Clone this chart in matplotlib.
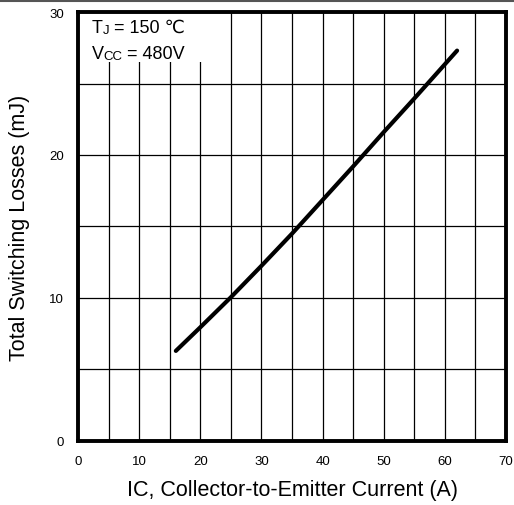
import matplotlib
matplotlib.use("Agg")
import matplotlib.pyplot as plt
from matplotlib.lines import Line2D

plt.rcParams['font.family'] = ['Liberation Sans', 'DejaVu Sans']

# curve
ic = [16, 20, 25, 30, 35, 40, 45, 50, 55, 62]
eloss = [6.3, 7.95, 10.05, 12.25, 14.5, 16.85, 19.2, 21.6, 23.95, 27.3]

xticks = [0, 10, 20, 30, 40, 50, 60, 70]
yticks = [0, 10, 20, 30]
grid_x = list(range(5, 70, 5))
grid_y = [5, 10, 15, 20, 25]

fig = plt.figure(figsize=(5.14, 5.06), dpi=100)
ax = fig.add_axes([0.1518, 0.1265, 0.8326, 0.8478])
ax.set_xlim(0, 70)
ax.set_ylim(0, 30)

for gx in grid_x:
    ax.axvline(gx, color='black', lw=0.9, zorder=1)
for gy in grid_y:
    ax.axhline(gy, color='black', lw=0.9, zorder=1)

# white box behind the conditions text
ax.fill_between([0, 23.8], 26.5, 30, color='white', lw=0, zorder=2)

ax.plot(ic, eloss, color='black', lw=3, solid_capstyle='round',
        solid_joinstyle='round', zorder=3)

ax.set_xticks(xticks)
ax.set_yticks(yticks)
ax.tick_params(length=0, labelsize=9.5, pad=10)
for s in ax.spines.values():
    s.set_linewidth(2.8)
    s.set_zorder(4)

ax.set_xlabel("IC, Collector-to-Emitter Current (A)", fontsize=15.5, labelpad=9)
ax.set_ylabel("Total Switching Losses (mJ)", fontsize=15.5, labelpad=14)

t1 = ax.text(2.2, 28.6, "T", fontsize=13, va='baseline', zorder=5)
t2 = ax.annotate("J", xy=(1, 0), xycoords=t1, fontsize=9.5, va='bottom', zorder=5)
ax.annotate(" = 150 ℃", xy=(1, 0), xycoords=t2, fontsize=13, va='bottom', zorder=5)
v1 = ax.text(2.2, 26.8, "V", fontsize=13, va='baseline', zorder=5)
v2 = ax.annotate("CC", xy=(1, 0), xycoords=v1, fontsize=9.5, va='bottom', zorder=5)
ax.annotate(" = 480V", xy=(1, 0), xycoords=v2, fontsize=13, va='bottom', zorder=5)

# thin rule at the very top of the image
fig.add_artist(Line2D([0, 1], [0.996, 0.996], color='#555555', lw=1.5))

fig.savefig("out.png", dpi=100)
